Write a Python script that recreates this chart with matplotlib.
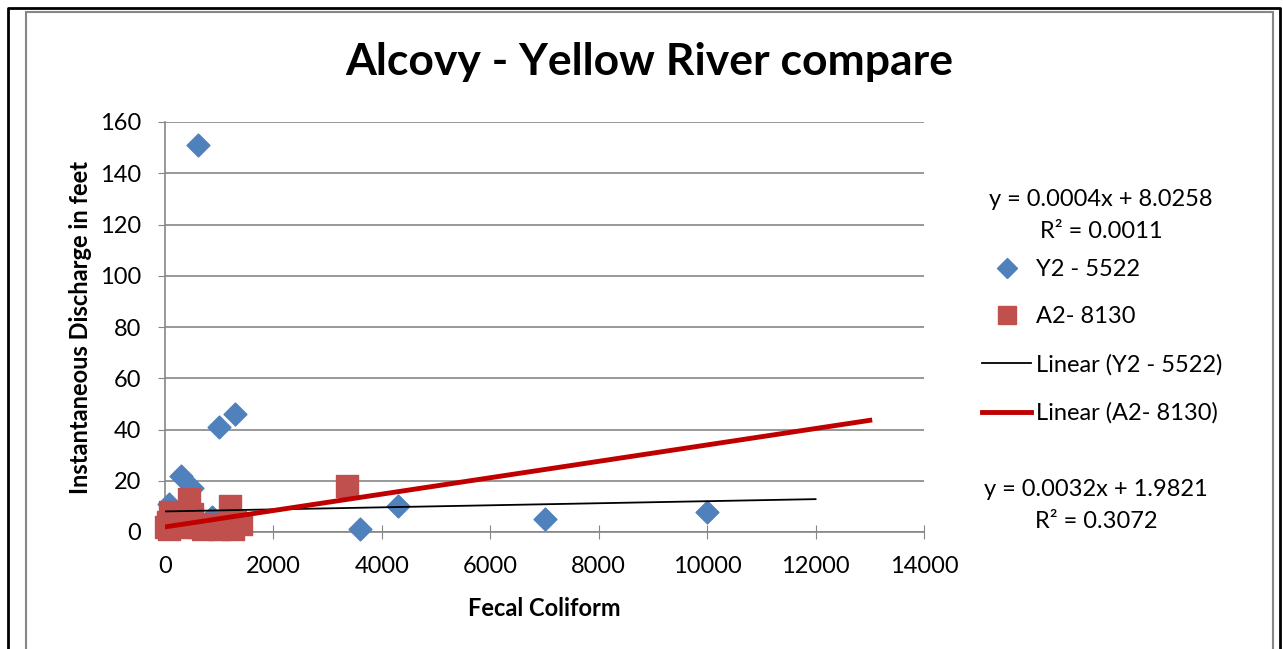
import matplotlib.pyplot as plt
from matplotlib.lines import Line2D
from matplotlib.patches import Rectangle

plt.rcParams['font.family'] = ['Lato', 'DejaVu Sans']

# Y2 - 5522 (blue diamonds)
y2_x = [610, 1000, 1300, 300, 500, 3600, 4300, 7000, 10000, 70, 870, 150]
y2_y = [151, 41, 46, 22, 17, 1.2, 10, 5, 8, 11, 6, 3]

# A2- 8130 (red squares)
a2_x = [20, 50, 80, 100, 150, 200, 250, 300, 400, 450, 500, 600,
        700, 800, 900, 1000, 1100, 1200, 1250, 1300, 1400, 3350]
a2_y = [2, 4, 1, 8, 3, 5, 2, 6, 3, 13, 7, 2,
        1, 2, 3, 1, 2, 10, 1, 4, 3, 18]

# trendlines (Excel)
y2_slope, y2_icpt, y2_xmax = 0.0004, 8.0258, 12000
a2_slope, a2_icpt, a2_xmax = 0.0032, 1.9821, 13000

blue = '#4F81BD'
red = '#C0504D'

fig = plt.figure(figsize=(12.83, 6.49), dpi=100)
ax = fig.add_axes([165/1283, 117/649, 759/1283, 410/649])

ax.scatter(y2_x, y2_y, marker='D', s=135, color=blue, zorder=3, clip_on=False)
ax.scatter(a2_x, a2_y, marker='s', s=250, color=red, zorder=3, clip_on=False)
ax.plot([0, y2_xmax], [y2_icpt, y2_icpt + y2_slope*y2_xmax], color='black', lw=1.3, zorder=4)
ax.plot([0, a2_xmax], [a2_icpt, a2_icpt + a2_slope*a2_xmax], color='#C00000', lw=3.5, zorder=4)

ax.set_xlim(0, 14000)
ax.set_ylim(0, 160)
ax.set_xticks(range(0, 14001, 2000))
ax.set_yticks(range(0, 161, 20))
ax.grid(axis='y', color='#868686', lw=1.2)
ax.set_axisbelow(True)
for s in ['top', 'right']:
    ax.spines[s].set_visible(False)
for s in ['left', 'bottom']:
    ax.spines[s].set_color('#868686')
    ax.spines[s].set_linewidth(1.2)
ax.tick_params(axis='x', direction='inout', length=10, color='#868686', labelsize=17, pad=12)
ax.tick_params(axis='y', direction='out', length=5, color='#868686', labelsize=17, pad=12)
ax.set_xlabel('Fecal Coliform', fontsize=17, fontweight='bold', labelpad=15)
ax.set_ylabel('Instantaneous Discharge in feet', fontsize=17, fontweight='bold', labelpad=6)

fig.text(649/1283, 1 - 62/649, 'Alcovy - Yellow River compare', fontsize=32, fontweight='bold',
         ha='center', va='center')

# equations
fig.text(1101/1283, 1 - 200/649, 'y = 0.0004x + 8.0258', fontsize=17, ha='center', va='center')
fig.text(1101/1283, 1 - 232/649, 'R² = 0.0011', fontsize=17, ha='center', va='center')
fig.text(1096/1283, 1 - 489/649, 'y = 0.0032x + 1.9821', fontsize=17, ha='center', va='center')
fig.text(1096/1283, 1 - 521/649, 'R² = 0.3072', fontsize=17, ha='center', va='center')

handles = [
    Line2D([], [], marker='D', ls='none', color=blue, markersize=10),
    Line2D([], [], marker='s', ls='none', color=red, markersize=13),
    Line2D([], [], color='black', lw=1.3),
    Line2D([], [], color='#C00000', lw=3.5),
]
labels = ['Y2 - 5522', 'A2- 8130', 'Linear (Y2 - 5522)', 'Linear (A2- 8130)']
fig.legend(handles, labels, loc='upper left', bbox_to_anchor=(970/1283, 1 - 247/649),
           frameon=False, fontsize=17, handlelength=2.1, handletextpad=0.2,
           labelspacing=1.13, borderpad=0)

# chart frame
fig.patches.append(Rectangle((26/1283, -0.1), (1273-26)/1283, 1.1 - 12/649, transform=fig.transFigure,
                             fill=False, ec='#868686', lw=1.5))
fig.add_artist(Line2D([8/1283, 8/1283, 1280/1283, 1280/1283], [0, 1 - 8/649, 1 - 8/649, 0],
                      transform=fig.transFigure, color='black', lw=2))

fig.savefig('out.png', dpi=100)
